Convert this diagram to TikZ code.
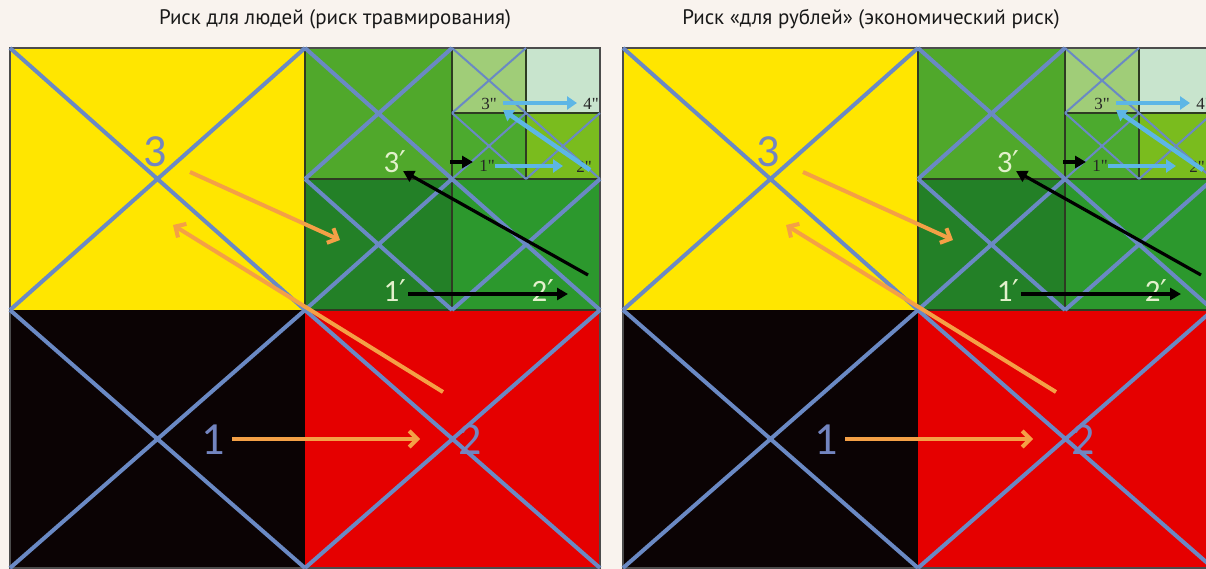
\documentclass[tikz,border=0pt]{standalone}
\usepackage{fontspec}
\setmainfont{Carlito}
\newfontfamily\titlefont{PT Sans}
\newfontfamily\markfont{Liberation Serif}
\newfontfamily\primefont{DejaVu Sans}
\usetikzlibrary{arrows.meta}
\definecolor{PageBeige}{HTML}{F9F3EE}
\definecolor{QuadYellow}{HTML}{FFE600}
\definecolor{QuadBlack}{HTML}{0B0304}
\definecolor{QuadRed}{HTML}{E50000}
\definecolor{GreenThree}{HTML}{50A82B}
\definecolor{GreenOne}{HTML}{238027}
\definecolor{GreenTwo}{HTML}{2C982D}
\definecolor{GreenThreeB}{HTML}{A0CD78}
\definecolor{GreenFourB}{HTML}{C8E4CD}
\definecolor{GreenOneB}{HTML}{4CAA2E}
\definecolor{GreenTwoB}{HTML}{7ABC1E}
\definecolor{CellEdge}{HTML}{2E3B22}
\definecolor{CrossBlue}{HTML}{6A89C4}
\definecolor{DigitBlue}{HTML}{7385C0}
\definecolor{PaleDigit}{HTML}{E3F1CC}
\definecolor{ArrowOrange}{HTML}{F4A046}
\definecolor{ArrowSky}{HTML}{5DB6E6}
\newcommand\pr{{\primefont\fontsize{30}{30}\selectfont ′}}

\begin{document}
\begin{tikzpicture}[
  x=1pt, y=-1pt,
  headline/.style={font=\titlefont\fontsize{21}{21}\selectfont, text=black!90, inner sep=0pt},
  cellline/.style={draw=CellEdge, line width=1.2pt},
  frame/.style={draw=black!70, line width=1.5pt},
  cross/.style={draw=CrossBlue, line width=4pt},
  thincross/.style={draw=CrossBlue, line width=2pt},
  bigdigit/.style={text=DigitBlue, font=\fontsize{46}{46}\selectfont, inner sep=0pt},
  primedigit/.style={text=PaleDigit, font=\fontsize{31}{31}\selectfont, inner sep=0pt},
  tinydigit/.style={text=black!85, font=\markfont\fontsize{17}{17}\selectfont, inner sep=0pt},
  moveorange/.style={draw=ArrowOrange, line width=4pt, -{Straight Barb[length=8pt, width=16pt]}},
  moveblack/.style={draw=black, line width=3.2pt, -{Triangle[length=11pt, width=12pt]}},
  movesky/.style={draw=ArrowSky, line width=4.5pt, -{Triangle[length=10pt, width=13pt]}}
]
  \fill[PageBeige] (0,0) rectangle (1206,569);
  \useasboundingbox (0,0) rectangle (1206,569);
  \clip (0,0) rectangle (1206,569);

  \node[headline] (titleL) at (335,19) {Риск для людей (риск травмирования)};
  \node[headline] (titleR) at (871,19) {Риск «для рублей» (экономический риск)};

  \foreach \dx/\p in {0/L, 613/R} {
    \begin{scope}[shift={(\dx,0)}]
      % big quadrants
      \fill[QuadYellow] (10,48) rectangle (305,310);
      \fill[QuadBlack] (10,310) rectangle (305,568);
      \fill[QuadRed] (305,310) rectangle (600,568);
      % green quadrant, split twice
      \filldraw[cellline, fill=GreenThree] (305,48) rectangle (452,179);
      \filldraw[cellline, fill=GreenOne] (305,179) rectangle (452,310);
      \filldraw[cellline, fill=GreenTwo] (452,179) rectangle (600,310);
      \filldraw[cellline, fill=GreenThreeB] (452,48) rectangle (526,113);
      \filldraw[cellline, fill=GreenFourB] (526,48) rectangle (600,113);
      \filldraw[cellline, fill=GreenOneB] (452,113) rectangle (526,179);
      \filldraw[cellline, fill=GreenTwoB] (526,113) rectangle (600,179);
      \draw[frame] (10,48) rectangle (600,568);

      % crosses
      \foreach \xa/\ya/\xb/\yb in {10/48/305/310, 10/310/305/568, 305/310/600/568,
                                   305/48/452/179, 305/179/452/310, 452/179/600/310}
        \draw[cross] (\xa,\ya) -- (\xb,\yb) (\xa,\yb) -- (\xb,\ya);
      \foreach \xa/\ya/\xb/\yb in {452/48/526/113, 452/113/526/179, 526/113/600/179}
        \draw[thincross] (\xa,\ya) -- (\xb,\yb) (\xa,\yb) -- (\xb,\ya);

      % labels
      \node[bigdigit] (three\p) at (155,152) {3};
      \node[bigdigit] (one\p) at (213,440) {1};
      \node[bigdigit] (two\p) at (470,440) {2};
      \node[primedigit] (threeP\p) at (395,162) {3\pr};
      \node[primedigit] (oneP\p) at (395,291) {1\pr};
      \node[primedigit] (twoP\p) at (543,291) {2\pr};
      \node[tinydigit] (threePP\p) at (489,104) {3"};
      \node[tinydigit] (fourPP\p) at (591,104) {4"};
      \node[tinydigit] (onePP\p) at (487,166) {1"};
      \node[tinydigit] (twoPP\p) at (584,167) {2"};

      % arrow ends
      \coordinate (oneTail\p) at (232,439);
      \coordinate (oneHead\p) at (420,439);
      \coordinate (twoTail\p) at (443,392);
      \coordinate (twoHead\p) at (173,225);
      \coordinate (threeTail\p) at (190,172);
      \coordinate (threeHead\p) at (340,240);
      \coordinate (onePTail\p) at (408,294);
      \coordinate (onePHead\p) at (568,294);
      \coordinate (twoPTail\p) at (588,275);
      \coordinate (twoPHead\p) at (403,171);
      \coordinate (threePTail\p) at (450,162);
      \coordinate (threePHead\p) at (473,162);
      \coordinate (onePPTail\p) at (495,166);
      \coordinate (onePPHead\p) at (563,166);
      \coordinate (threePPTail\p) at (503,103);
      \coordinate (threePPHead\p) at (577,103);
      \coordinate (twoPPTail\p) at (590,170);
      \coordinate (twoPPHead\p) at (503,110);

      % moves
      \draw[moveorange] (oneTail\p) -- (oneHead\p);
      \draw[moveorange] (twoTail\p) -- (twoHead\p);
      \draw[moveorange] (threeTail\p) -- (threeHead\p);
      \draw[moveblack] (onePTail\p) -- (onePHead\p);
      \draw[moveblack] (twoPTail\p) -- (twoPHead\p);
      \draw[moveblack] (threePTail\p) -- (threePHead\p);
      \draw[movesky] (onePPTail\p) -- (onePPHead\p);
      \draw[movesky] (threePPTail\p) -- (threePPHead\p);
      \draw[movesky] (twoPPTail\p) -- (twoPPHead\p);
    \end{scope}
  }
\end{tikzpicture}
\end{document}
